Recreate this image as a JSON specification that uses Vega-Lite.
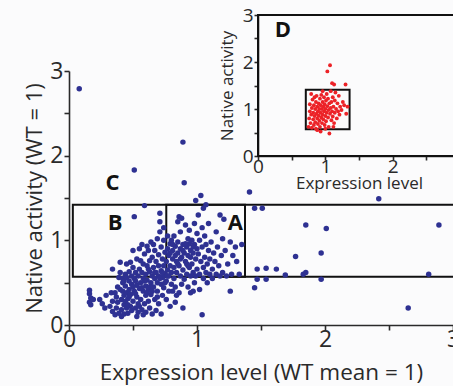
{
"$schema": "https://vega.github.io/schema/vega-lite/v6.json",
"width": 384, "height": 310,
"autosize": "none",
"padding": {"left": 69, "top": 15, "right": 0, "bottom": 61},
"background": "#fbfbfc",
"config": {"view": {"stroke": null}, "font": "Open Sans",
 "axis": {"grid": false, "domainColor": "#2a2a2a", "tickColor": "#2a2a2a", "labelColor": "#2a2a2a", "titleColor": "#2a2a2a", "labelFont": "Open Sans", "titleFont": "Open Sans", "titleFontWeight": "normal", "domainWidth": 1.6, "tickWidth": 1.6, "labelFlush": false, "labelOverlap": false}},
"datasets": {
 "blue": [
  {"x":0.08,"y":2.79},{"x":0.89,"y":2.16},{"x":0.51,"y":1.83},{"x":0.90,"y":1.68},{"x":1.41,"y":1.57},{"x":1.03,"y":1.53},{"x":0.99,"y":1.47},{"x":2.42,"y":1.49},{"x":0.59,"y":1.41},{"x":1.45,"y":1.38},{"x":1.51,"y":1.38},{"x":1.85,"y":1.18},{"x":2.01,"y":1.14},{"x":2.89,"y":1.18},{"x":1.77,"y":0.81},{"x":1.97,"y":0.85},{"x":1.47,"y":0.66},{"x":1.54,"y":0.67},{"x":1.62,"y":0.66},{"x":1.69,"y":0.59},{"x":1.83,"y":0.60},{"x":1.85,"y":0.62},{"x":1.97,"y":0.54},{"x":1.47,"y":0.54},{"x":1.54,"y":0.54},{"x":1.45,"y":0.44},{"x":2.81,"y":0.60},{"x":2.65,"y":0.20},{"x":1.04,"y":0.12},{"x":1.26,"y":0.40},{"x":0.34,"y":0.66},{"x":0.51,"y":1.28},
  {"x":0.16,"y":0.41},{"x":0.16,"y":0.37},{"x":0.17,"y":0.32},{"x":0.16,"y":0.27},{"x":0.17,"y":0.24},{"x":0.19,"y":0.30},
  {"x":0.24,"y":0.30},{"x":0.26,"y":0.25},{"x":0.28,"y":0.20},{"x":0.29,"y":0.35},
  {"x":0.33,"y":0.38},{"x":0.34,"y":0.28},{"x":0.34,"y":0.16},{"x":0.32,"y":0.22},
  {"x":0.36,"y":0.12},{"x":0.37,"y":0.20},{"x":0.37,"y":0.33},{"x":0.38,"y":0.45},{"x":0.38,"y":0.27},{"x":0.39,"y":0.56},{"x":0.39,"y":0.14},{"x":0.36,"y":0.38},{"x":0.40,"y":0.74},{"x":0.40,"y":0.62},
  {"x":0.41,"y":0.18},{"x":0.41,"y":0.30},{"x":0.42,"y":0.40},{"x":0.42,"y":0.50},{"x":0.43,"y":0.13},{"x":0.43,"y":0.24},{"x":0.43,"y":0.35},{"x":0.44,"y":0.60},{"x":0.44,"y":0.46},{"x":0.44,"y":0.28},{"x":0.45,"y":0.20},{"x":0.45,"y":0.72},{"x":0.42,"y":0.55},{"x":0.41,"y":0.10},{"x":0.45,"y":0.38},
  {"x":0.46,"y":0.14},{"x":0.46,"y":0.31},{"x":0.47,"y":0.42},{"x":0.47,"y":0.52},{"x":0.47,"y":0.63},{"x":0.48,"y":0.22},{"x":0.48,"y":0.36},{"x":0.49,"y":0.48},{"x":0.49,"y":0.58},{"x":0.49,"y":0.17},{"x":0.50,"y":0.28},{"x":0.50,"y":0.68},{"x":0.50,"y":0.88},{"x":0.46,"y":0.24},{"x":0.48,"y":0.74},
  {"x":0.51,"y":0.40},{"x":0.51,"y":0.55},{"x":0.52,"y":0.20},{"x":0.52,"y":0.62},{"x":0.53,"y":0.33},{"x":0.53,"y":0.47},{"x":0.53,"y":0.78},{"x":0.54,"y":0.15},{"x":0.54,"y":0.25},{"x":0.54,"y":0.58},{"x":0.55,"y":0.43},{"x":0.55,"y":0.66},{"x":0.55,"y":0.90},{"x":0.52,"y":0.52},
  {"x":0.56,"y":0.30},{"x":0.56,"y":0.50},{"x":0.57,"y":0.62},{"x":0.57,"y":0.18},{"x":0.57,"y":0.95},{"x":0.58,"y":0.40},{"x":0.58,"y":0.72},{"x":0.58,"y":0.55},{"x":0.59,"y":0.25},{"x":0.59,"y":0.84},{"x":0.60,"y":0.46},{"x":0.60,"y":0.60},{"x":0.60,"y":0.35},{"x":0.56,"y":0.76},{"x":0.58,"y":0.12},
  {"x":0.61,"y":0.70},{"x":0.61,"y":0.53},{"x":0.62,"y":0.28},{"x":0.62,"y":0.42},{"x":0.62,"y":0.88},{"x":0.63,"y":0.63},{"x":0.63,"y":0.76},{"x":0.63,"y":0.20},{"x":0.64,"y":0.50},{"x":0.64,"y":0.36},{"x":0.64,"y":0.98},{"x":0.65,"y":0.58},{"x":0.65,"y":0.80},{"x":0.65,"y":0.13},{"x":0.61,"y":0.93},{"x":0.62,"y":0.66},
  {"x":0.66,"y":0.45},{"x":0.66,"y":0.68},{"x":0.67,"y":0.30},{"x":0.67,"y":0.55},{"x":0.67,"y":0.88},{"x":0.68,"y":0.75},{"x":0.68,"y":0.62},{"x":0.68,"y":0.17},{"x":0.69,"y":0.50},{"x":0.69,"y":1.02},{"x":0.69,"y":0.40},{"x":0.70,"y":0.83},{"x":0.70,"y":0.58},{"x":0.70,"y":0.70},{"x":0.66,"y":0.95},{"x":0.70,"y":0.25},
  {"x":0.71,"y":1.32},{"x":0.71,"y":1.22},{"x":0.71,"y":1.10},{"x":0.72,"y":0.92},{"x":0.72,"y":0.64},{"x":0.72,"y":0.48},{"x":0.73,"y":0.78},{"x":0.73,"y":0.56},{"x":0.73,"y":0.35},{"x":0.74,"y":1.15},{"x":0.74,"y":1.00},{"x":0.74,"y":0.70},{"x":0.75,"y":0.60},{"x":0.75,"y":0.86},{"x":0.72,"y":0.13},{"x":0.74,"y":0.44},
  {"x":0.76,"y":0.75},{"x":0.76,"y":0.52},{"x":0.77,"y":1.05},{"x":0.77,"y":0.90},{"x":0.77,"y":0.65},{"x":0.78,"y":0.40},{"x":0.78,"y":0.82},{"x":0.78,"y":0.58},{"x":0.79,"y":0.96},{"x":0.79,"y":0.70},{"x":0.80,"y":0.48},{"x":0.80,"y":1.00},{"x":0.80,"y":0.62},{"x":0.76,"y":0.30},{"x":0.79,"y":0.22},
  {"x":0.81,"y":0.78},{"x":0.81,"y":0.88},{"x":0.82,"y":0.55},{"x":0.82,"y":0.68},{"x":0.82,"y":1.05},{"x":0.83,"y":0.93},{"x":0.83,"y":0.45},{"x":0.84,"y":0.75},{"x":0.84,"y":0.62},{"x":0.84,"y":0.35},{"x":0.85,"y":0.85},{"x":0.85,"y":1.22},{"x":0.85,"y":0.98},{"x":0.83,"y":0.27},{"x":0.81,"y":0.40},
  {"x":0.86,"y":1.28},{"x":0.86,"y":0.70},{"x":0.87,"y":0.90},{"x":0.87,"y":0.58},{"x":0.87,"y":1.10},{"x":0.88,"y":0.80},{"x":0.88,"y":0.48},{"x":0.88,"y":1.26},{"x":0.89,"y":0.95},{"x":0.89,"y":0.65},{"x":0.90,"y":0.85},{"x":0.90,"y":0.54},{"x":0.86,"y":0.38},{"x":0.89,"y":0.20},
  {"x":0.91,"y":1.18},{"x":0.91,"y":0.75},{"x":0.92,"y":0.92},{"x":0.92,"y":0.60},{"x":0.93,"y":1.02},{"x":0.93,"y":0.82},{"x":0.93,"y":0.45},{"x":0.94,"y":0.68},{"x":0.94,"y":1.12},{"x":0.95,"y":0.88},{"x":0.95,"y":0.58},{"x":0.95,"y":0.38},{"x":0.92,"y":0.72},{"x":0.94,"y":0.96},
  {"x":0.96,"y":1.00},{"x":0.96,"y":0.72},{"x":0.97,"y":0.62},{"x":0.97,"y":0.85},{"x":0.98,"y":1.20},{"x":0.98,"y":0.95},{"x":0.98,"y":0.50},{"x":0.99,"y":0.78},{"x":1.00,"y":0.90},{"x":1.00,"y":0.66},{"x":1.00,"y":1.08},{"x":0.97,"y":0.40},{"x":0.99,"y":0.58},
  {"x":1.01,"y":1.30},{"x":1.01,"y":0.84},{"x":1.02,"y":0.60},{"x":1.02,"y":1.00},{"x":1.03,"y":0.75},{"x":1.04,"y":1.15},{"x":1.04,"y":0.92},{"x":1.05,"y":0.55},{"x":1.05,"y":0.68},{"x":1.02,"y":0.42},{"x":1.05,"y":1.38},
  {"x":1.06,"y":0.80},{"x":1.06,"y":1.05},{"x":1.07,"y":0.62},{"x":1.07,"y":0.95},{"x":1.08,"y":0.72},{"x":1.08,"y":0.50},{"x":1.09,"y":0.88},{"x":1.09,"y":1.20},{"x":1.10,"y":0.60},{"x":1.10,"y":0.78},{"x":1.07,"y":1.42},
  {"x":1.11,"y":0.98},{"x":1.12,"y":0.66},{"x":1.12,"y":0.55},{"x":1.13,"y":0.85},{"x":1.14,"y":0.75},{"x":1.15,"y":1.10},{"x":1.15,"y":0.60},{"x":1.16,"y":0.92},{"x":1.17,"y":0.70},{"x":1.18,"y":0.58},{"x":1.18,"y":1.30},{"x":1.19,"y":0.82},{"x":1.20,"y":0.62},{"x":1.20,"y":1.02},
  {"x":1.21,"y":1.25},{"x":1.22,"y":0.88},{"x":1.23,"y":0.58},{"x":1.24,"y":0.72},{"x":1.26,"y":0.98},{"x":1.27,"y":0.60},{"x":1.28,"y":0.82},{"x":1.30,"y":0.92},{"x":1.31,"y":0.75},{"x":1.33,"y":0.60},{"x":1.35,"y":0.95},
  {"x":0.43,"y":0.52},{"x":0.45,"y":0.56},{"x":0.47,"y":0.33},{"x":0.50,"y":0.45},{"x":0.52,"y":0.37},{"x":0.55,"y":0.22},{"x":0.57,"y":0.44},{"x":0.59,"y":0.52},{"x":0.61,"y":0.38},{"x":0.63,"y":0.45},{"x":0.65,"y":0.40},{"x":0.67,"y":0.62},{"x":0.69,"y":0.33},{"x":0.71,"y":0.55},{"x":0.73,"y":0.62},{"x":0.75,"y":0.50},{"x":0.77,"y":0.58},{"x":0.79,"y":0.85},{"x":0.81,"y":0.95},{"x":0.83,"y":0.82},{"x":0.85,"y":0.72},{"x":0.87,"y":0.78},{"x":0.89,"y":0.88},{"x":0.91,"y":0.96},{"x":0.93,"y":0.70},{"x":0.95,"y":0.80},{"x":0.97,"y":0.92},{"x":0.53,"y":0.10},{"x":0.60,"y":0.15},{"x":0.40,"y":0.42}
 ],
 "red": [
  {"x":0.75,"y":0.62},{"x":0.76,"y":0.80},{"x":0.77,"y":0.95},{"x":0.77,"y":1.10},{"x":0.78,"y":0.70},{"x":0.79,"y":0.88},{"x":0.80,"y":1.02},{"x":0.80,"y":0.60},{"x":0.81,"y":1.20},{"x":0.82,"y":0.78},{"x":0.82,"y":0.92},{"x":0.83,"y":1.08},{"x":0.83,"y":0.66},{"x":0.84,"y":0.85},{"x":0.85,"y":1.00},{"x":0.85,"y":0.72},{"x":0.86,"y":1.15},{"x":0.86,"y":0.58},{"x":0.87,"y":0.90},{"x":0.87,"y":1.28},{"x":0.88,"y":0.80},{"x":0.88,"y":1.05},{"x":0.89,"y":0.68},{"x":0.89,"y":0.95},{"x":0.90,"y":1.12},{"x":0.90,"y":0.86},{"x":0.91,"y":0.75},{"x":0.91,"y":1.00},{"x":0.92,"y":1.22},{"x":0.92,"y":0.62},{"x":0.93,"y":0.92},{"x":0.93,"y":1.08},{"x":0.94,"y":0.82},{"x":0.94,"y":1.30},{"x":0.95,"y":0.70},{"x":0.95,"y":1.00},{"x":0.96,"y":1.15},{"x":0.96,"y":0.88},{"x":0.97,"y":0.78},{"x":0.97,"y":1.05},{"x":0.98,"y":0.95},{"x":0.98,"y":1.25},{"x":0.99,"y":0.66},{"x":0.99,"y":1.10},{"x":1.00,"y":0.85},{"x":1.00,"y":1.00},{"x":1.01,"y":1.18},{"x":1.01,"y":0.74},{"x":1.02,"y":0.92},{"x":1.02,"y":1.32},{"x":1.03,"y":1.80},{"x":1.03,"y":1.06},{"x":1.04,"y":0.82},{"x":1.04,"y":1.22},{"x":1.05,"y":0.98},{"x":1.05,"y":0.62},{"x":1.06,"y":1.12},{"x":1.06,"y":0.48},{"x":1.07,"y":1.93},{"x":1.07,"y":0.90},{"x":1.08,"y":1.02},{"x":1.08,"y":1.38},{"x":1.09,"y":0.76},{"x":1.09,"y":1.15},{"x":1.10,"y":1.55},{"x":1.10,"y":0.95},{"x":1.11,"y":1.25},{"x":1.11,"y":0.84},{"x":1.12,"y":1.05},{"x":1.13,"y":1.52},{"x":1.13,"y":0.70},{"x":1.14,"y":1.18},{"x":1.14,"y":0.92},{"x":1.15,"y":1.35},{"x":1.16,"y":1.00},{"x":1.17,"y":0.80},{"x":1.18,"y":1.12},{"x":1.19,"y":0.95},{"x":1.20,"y":1.28},{"x":1.21,"y":0.88},{"x":1.22,"y":1.05},{"x":1.24,"y":0.98},{"x":1.26,"y":1.15},{"x":1.28,"y":1.08},{"x":1.30,"y":1.52},{"x":1.31,"y":0.90},{"x":1.33,"y":1.05},{"x":0.79,"y":1.32},{"x":0.84,"y":1.25},{"x":0.96,"y":1.38},{"x":1.00,"y":0.58},{"x":0.88,"y":0.55},{"x":1.12,"y":0.62},{"x":0.93,"y":0.52}
 ]
},
"layer": [
 {"layer": [
  {"data": {"values": [{"x1":0.03,"x2":3.5,"y1":0.57,"y2":1.42},{"x1":0.76,"x2":1.375,"y1":0.57,"y2":1.42}]},
   "mark": {"type": "rect", "filled": false, "stroke": "#111", "strokeWidth": 2, "clip": true},
   "encoding": {
    "x": {"field": "x1", "type": "quantitative", "scale": {"domain": [0, 3], "range": [0, 384], "nice": false, "zero": false},
      "axis": {"orient": "bottom", "title": "Expression level (WT mean = 1)", "values": [0,0.5,1,1.5,2,2.5,3], "labelExpr": "datum.value % 1 === 0 ? '' + datum.value : ''", "labelFontSize": 23, "titleFontSize": 22.5, "tickSize": 5, "labelPadding": -2, "titlePadding": 10}},
    "x2": {"field": "x2"},
    "y": {"field": "y1", "type": "quantitative", "scale": {"domain": [0, 3], "range": [310, 56], "nice": false, "zero": false},
      "axis": {"orient": "left", "title": "Native activity (WT = 1)", "values": [0,0.5,1,1.5,2,2.5,3], "labelExpr": "datum.value % 1 === 0 ? '' + datum.value : ''", "labelFontSize": 23, "titleFontSize": 22, "tickSize": 5, "labelPadding": 1, "titlePadding": 3}},
    "y2": {"field": "y2"}
   }},
  {"data": {"name": "blue"},
   "mark": {"type": "circle", "size": 30, "opacity": 1, "color": "#2e3192"},
   "encoding": {"x": {"field": "x", "type": "quantitative"}, "y": {"field": "y", "type": "quantitative"}}},
  {"data": {"values": [{"t":"C","x":0.34,"y":1.68},{"t":"B","x":0.36,"y":1.20},{"t":"A","x":1.30,"y":1.20}]},
   "mark": {"type": "text", "fontSize": 22, "fontWeight": "bold", "font": "Open Sans", "color": "#111"},
   "encoding": {"x": {"field": "x", "type": "quantitative"}, "y": {"field": "y", "type": "quantitative"}, "text": {"field": "t"}}}
 ]},
 {"layer": [
  {"data": {"values": [{"x1":0,"x2":3,"y1":0,"y2":3},{"x1":0.71,"x2":1.36,"y1":0.57,"y2":1.41}]},
   "mark": {"type": "rect", "filled": false, "stroke": "#111", "strokeWidth": 2},
   "encoding": {
    "x": {"field": "x1", "type": "quantitative", "scale": {"domain": [0, 3], "range": [189, 391], "nice": false, "zero": false},
      "axis": {"orient": "bottom", "offset": -169, "title": "Expression level", "values": [0,0.5,1,1.5,2,2.5,3], "labelExpr": "datum.value % 1 === 0 ? '' + datum.value : ''", "labelFontSize": 19, "titleFontSize": 17, "tickSize": 4, "labelPadding": -3, "titlePadding": -1}},
    "x2": {"field": "x2"},
    "y": {"field": "y1", "type": "quantitative", "scale": {"domain": [0, 3], "range": [141, 0], "nice": false, "zero": false},
      "axis": {"orient": "left", "offset": -189, "title": "Native activity", "values": [0,0.5,1,1.5,2,2.5,3], "labelExpr": "datum.value % 1 === 0 ? '' + datum.value : ''", "labelFontSize": 19, "titleFontSize": 17, "tickSize": 4, "labelPadding": 1, "titlePadding": 6}},
    "y2": {"field": "y2"}
   }},
  {"data": {"name": "red"},
   "mark": {"type": "circle", "size": 15, "opacity": 1, "color": "#ec2227"},
   "encoding": {"x": {"field": "x", "type": "quantitative"}, "y": {"field": "y", "type": "quantitative"}}},
  {"data": {"values": [{"t":"D","x":0.37,"y":2.68}]},
   "mark": {"type": "text", "fontSize": 22, "fontWeight": "bold", "font": "Open Sans", "color": "#111"},
   "encoding": {"x": {"field": "x", "type": "quantitative"}, "y": {"field": "y", "type": "quantitative"}, "text": {"field": "t"}}}
 ]}
],
"resolve": {"scale": {"x": "independent", "y": "independent"}, "axis": {"x": "independent", "y": "independent"}}
}
